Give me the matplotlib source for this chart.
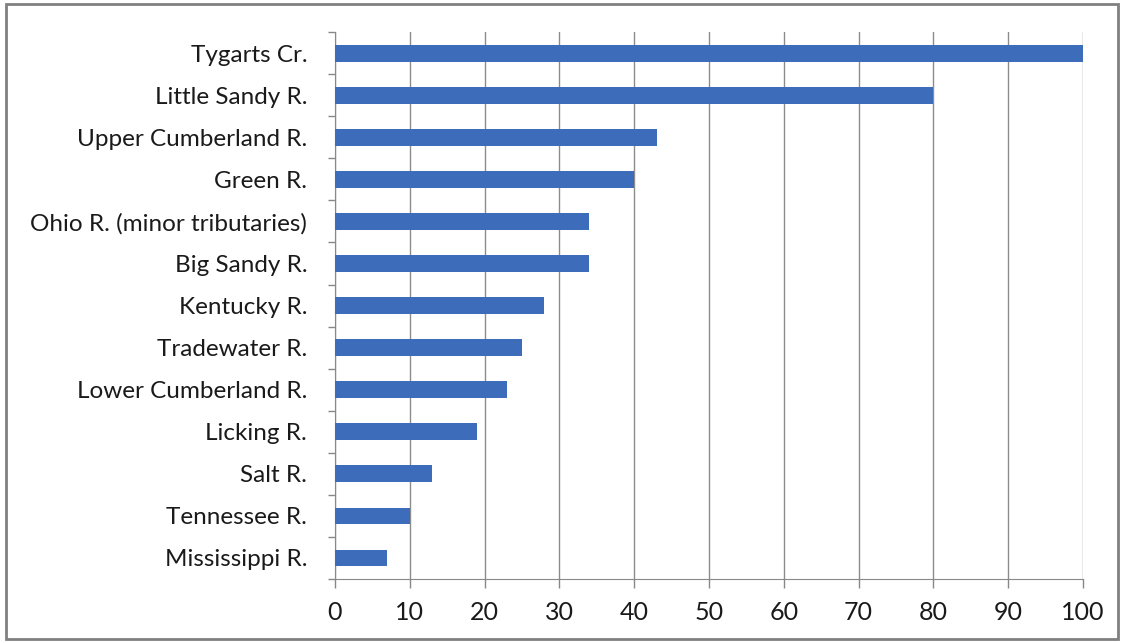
import matplotlib
matplotlib.use("Agg")
import matplotlib.pyplot as plt
from matplotlib.patches import Rectangle
import numpy as np

rivers = [
    "Tygarts Cr.", "Little Sandy R.", "Upper Cumberland R.", "Green R.",
    "Ohio R. (minor tributaries)", "Big Sandy R.", "Kentucky R.",
    "Tradewater R.", "Lower Cumberland R.", "Licking R.", "Salt R.",
    "Tennessee R.", "Mississippi R.",
]
values = [100, 80, 43, 40, 34, 34, 28, 25, 23, 19, 13, 10, 7]
x_ticks = [0, 10, 20, 30, 40, 50, 60, 70, 80, 90, 100]

plt.rcParams["font.family"] = ["Lato", "DejaVu Sans"]

fig = plt.figure(figsize=(11.24, 6.43), dpi=100)
ax = fig.add_axes([0.298, 0.0995, 0.6655, 0.8505])

pos = np.arange(len(rivers))
ax.barh(pos, values, height=0.4, color="#3D6DBA", zorder=3)

ax.set_ylim(len(rivers) - 0.5, -0.5)
ax.set_xlim(0, 100)
ax.set_yticks(pos)
ax.set_yticklabels(rivers, fontsize=17.5, color="#1a1a1a")
ax.set_yticks(np.arange(-0.5, len(rivers), 1.0), minor=True)
ax.tick_params(axis="y", which="major", length=0, pad=20)
ax.tick_params(axis="y", which="minor", length=5, color="#888888", width=1)

ax.set_xticks(x_ticks)
ax.set_xticklabels([str(t) for t in x_ticks], fontsize=18, color="#1a1a1a")
ax.tick_params(axis="x", length=6.5, color="#888888", width=1, pad=9)

ax.grid(axis="x", color="#8c8c8c", linewidth=1, zorder=0)
for side in ["top", "right"]:
    ax.spines[side].set_visible(False)
ax.spines["left"].set_color("#888888")
ax.spines["bottom"].set_color("#888888")

# outer frame of the chart area
fig.patches.append(Rectangle((0.005, 0.006), 0.99, 0.988, transform=fig.transFigure,
                             fill=False, edgecolor="#808080", linewidth=2))

fig.savefig("out.png", dpi=100, facecolor="white")
